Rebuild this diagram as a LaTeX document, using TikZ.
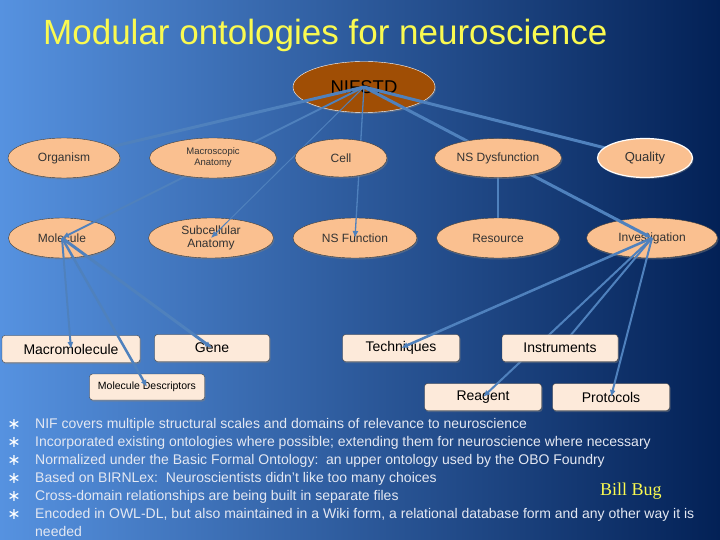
\documentclass[tikz,border=0pt]{standalone}
\usepackage{fontspec}
\setmainfont{Liberation Sans}
\newfontfamily\bugfont{Liberation Serif}
\newfontfamily\starfont{DejaVu Sans}
\usetikzlibrary{arrows.meta,shapes.geometric,shadows,positioning}
\definecolor{SlideLight}{RGB}{86,146,224}
\definecolor{SlideMid}{RGB}{46,96,172}
\definecolor{SlideDark}{RGB}{3,33,86}
\definecolor{LinkBlue}{RGB}{79,129,189}
\definecolor{Peach}{RGB}{250,192,144}
\definecolor{Cream}{RGB}{253,234,218}
\definecolor{Rust}{RGB}{160,78,5}
\definecolor{TitleYellow}{RGB}{250,250,80}
\definecolor{NoteGray}{RGB}{228,232,242}
\definecolor{RimGray}{RGB}{60,60,60}
\pgfdeclarelayer{bg}
\pgfdeclarelayer{lower}
\pgfdeclarelayer{upper}
\pgfsetlayers{bg,lower,main,upper}

\begin{document}
\begin{tikzpicture}[x=1pt,y=-1pt,>={Latex[length=7pt,width=6pt]},
    oval/.style={ellipse,draw=RimGray,fill=Peach,inner sep=0pt,minimum height=40pt,
      text=black!80,align=center,font=\fontsize{12}{13}\selectfont,
      drop shadow={shadow xshift=1pt,shadow yshift=-1.5pt,opacity=.45}},
    card/.style={rectangle,rounded corners=3pt,draw=RimGray,fill=Cream,inner sep=0pt,
      minimum width=116pt,minimum height=27pt,text=black,font=\fontsize{14}{15}\selectfont,
      drop shadow={shadow xshift=1pt,shadow yshift=-1.5pt,opacity=.45}},
    link/.style={->,LinkBlue,line width=#1},link/.default=2pt,
    note/.style={anchor=base west,inner sep=0pt,text=NoteGray,font=\fontsize{14}{16}\selectfont}]
  \useasboundingbox (0,0) rectangle (720,540);
  \begin{pgfonlayer}{bg}
    \shade[left color=SlideLight,middle color=SlideMid,right color=SlideDark] (0,0) rectangle (720,540);
  \end{pgfonlayer}

  \node[anchor=base west,inner sep=0pt,text=TitleYellow,font=\fontsize{35}{40}\selectfont] (title) at (43,45) {Modular ontologies for neuroscience};

  % modules the connectors are drawn over
  \begin{pgfonlayer}{lower}
    \node[oval,fill=Rust,draw=white,minimum width=142pt,minimum height=51pt,text=black,font=\fontsize{18.5}{20}\selectfont] (nif) at (364,87) {NIFSTD};
    \node[oval,minimum width=107pt] (molecule) at (62,238) {Molecule};
    \node[oval,minimum width=125pt] (subcell) at (211,238) {Subcellular\\Anatomy};
    \node[oval,minimum width=124pt] (nsfunc) at (355,238) {NS Function};
    \node[oval,minimum width=131pt] (invest) at (652,238) {Investigation};
    \node[card,minimum width=138pt] (macromol) at (71,349) {Macromolecule};
    \node[card,minimum width=115pt] (gene) at (212,348) {Gene};
    \node[card,minimum width=115pt,minimum height=26pt,font=\fontsize{10.5}{12}\selectfont] (moldesc) at (147,387) {Molecule Descriptors};
    \node[card,minimum width=117pt] (techniques) at (401,348) {Techniques};
    \node[card,minimum width=117pt] (reagent) at (483,397) {Reagent};
    \node[card,minimum width=117pt] (protocols) at (611,397) {Protocols};
  \end{pgfonlayer}

  % modules that lie over the connectors
  \begin{pgfonlayer}{upper}
    \node[oval,minimum width=112pt] (organism) at (64,158) {Organism};
    \node[oval,minimum width=127pt,font=\fontsize{9.5}{11}\selectfont] (macro) at (213,158) {Macroscopic\\Anatomy};
    \node[oval,minimum width=92pt,minimum height=38pt] (cell) at (341,158) {Cell};
    \node[oval,minimum width=127pt,minimum height=39pt] (nsdys) at (498,158) {NS Dysfunction};
    \node[oval,minimum width=95pt,minimum height=39pt,draw=white,line width=1.2pt,font=\fontsize{13}{14}\selectfont] (quality) at (645,158) {Quality};
    \node[oval,minimum width=123pt] (resource) at (498,238) {Resource};
    \node[card,minimum width=116pt] (instruments) at (560,348) {Instruments};
  \end{pgfonlayer}

  \draw[link=3pt] (nif.center) -- (organism.center);
  \draw[link=2pt] (nif.center) -- (molecule.center);
  \draw[link=1pt] (nif.center) -- (subcell.center);
  \draw[link=1.3pt] (nif.center) -- (nsfunc.center);
  \draw[link=3pt] (nif.center) -- (invest.center);
  \draw[link=3pt] (nif.center) -- (quality.center);
  \draw[link=2.5pt] (nsdys.center) -- (resource.center);
  \draw[link=2pt] (molecule.center) -- (macromol.center);
  \draw[link=2.5pt] (molecule.center) -- (moldesc.center);
  \draw[link=3pt] (molecule.center) -- (gene.center);
  \draw[link=2.5pt] (invest.center) -- (techniques.center);
  \draw[link=2pt] (invest.center) -- (instruments.center);
  \draw[link=2pt] (invest.center) -- (reagent.center);
  \draw[link=2pt] (invest.center) -- (protocols.center);

  \foreach \txt [count=\i] in {{NIF covers multiple structural scales and domains of relevance to neuroscience},
      {Incorporated existing ontologies where possible; extending them for neuroscience where necessary},
      {Normalized under the Basic Formal Ontology:\ \ an upper ontology used by the OBO Foundry},
      {Based on BIRNLex:\ \ Neuroscientists didn't like too many choices},
      {Cross-domain relationships are being built in separate files},
      {Encoded in OWL-DL, but also maintained in a Wiki form, a relational database form and any other way it is}}{
    \node[anchor=base,inner sep=0pt,text=white,font=\starfont\fontsize{16}{17}\selectfont] (star\i) at (14,411+18*\i) {∗};
    \node[note] (note\i) at (35,410+18*\i) {\txt};
  }
  \node[note] (note7) at (35,536) {needed};
  \node[anchor=base west,inner sep=0pt,text=TitleYellow,font=\bugfont\fontsize{18}{20}\selectfont] (author) at (600,495) {Bill Bug};
\end{tikzpicture}
\end{document}
